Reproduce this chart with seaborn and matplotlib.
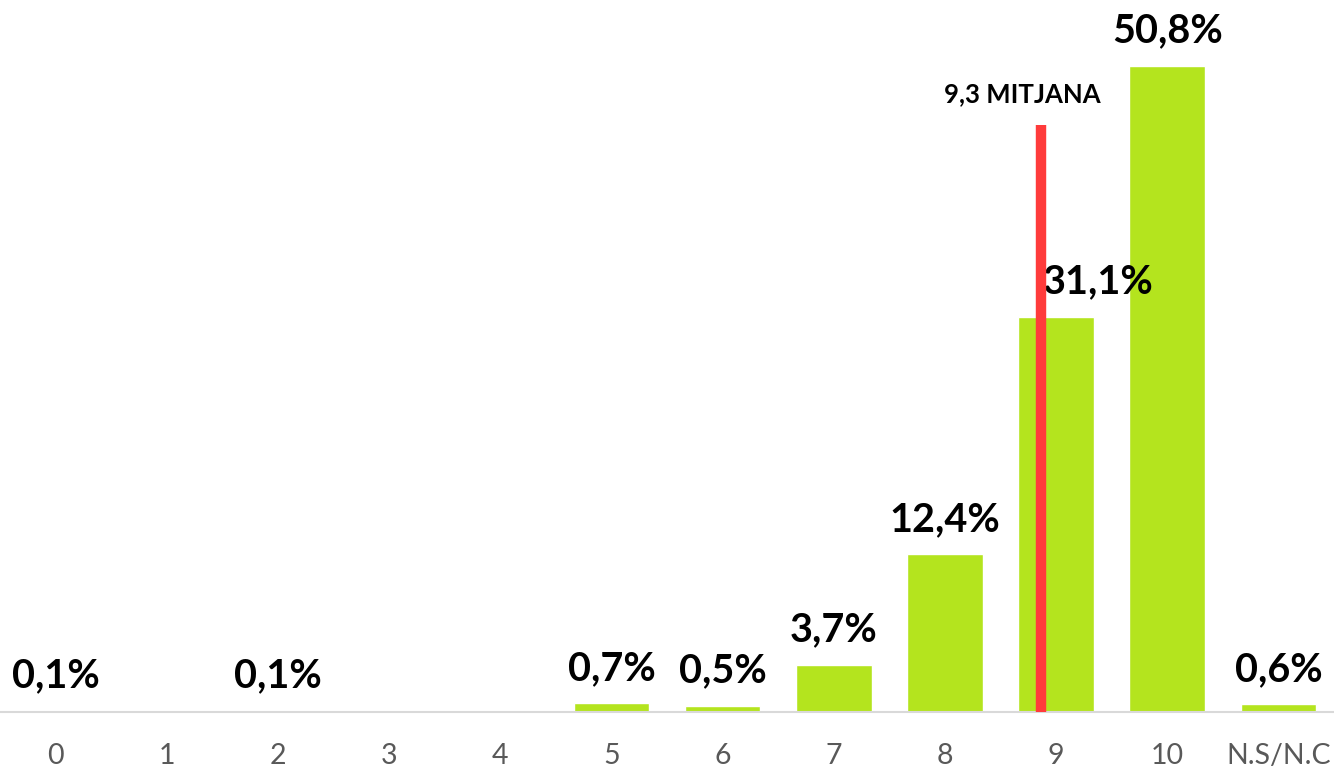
import matplotlib.pyplot as plt
import seaborn as sns
import pandas as pd

# dades
categories = ['0', '1', '2', '3', '4', '5', '6', '7', '8', '9', '10', 'N.S/N.C']
percent = [0.1, 0.0, 0.1, 0.0, 0.0, 0.7, 0.5, 3.7, 12.4, 31.1, 50.8, 0.6]
mean_label = '9,3 MITJANA'
mean_pos = 8.86
mean_top = 46.2

sns.set_theme(style='white')
plt.rcParams['font.family'] = ['Lato', 'DejaVu Sans']

df = pd.DataFrame({'cat': categories, 'pct': percent})

fig = plt.figure(figsize=(13.34, 7.69), dpi=100)
ax = fig.add_axes([0, 0.074, 1, 0.926])

sns.barplot(data=df, x='cat', y='pct', order=categories, color='#B4E41E',
            saturation=1, width=0.68, ax=ax)

ax.set_xlim(-0.5, 11.5)
ax.set_ylim(0, 56)

for i, v in enumerate(percent):
    if v <= 0:
        continue
    txt = f'{v:.1f}%'.replace('.', ',')
    dx = 0.38 if categories[i] == '9' else 0
    ax.text(i + dx, v + 2.75, txt, ha='center', va='center',
            fontsize=28.5, fontweight='bold', color='black')

ax.vlines(mean_pos, 0, mean_top, color='#FF3B3B', linewidth=7.5, zorder=5)
ax.text(mean_pos - 0.16, mean_top + 2.4, mean_label, ha='center', va='center',
        fontsize=18.5, fontweight='bold', color='black')

for s in ['top', 'right', 'left']:
    ax.spines[s].set_visible(False)
ax.spines['bottom'].set_color('#D9D9D9')
ax.spines['bottom'].set_linewidth(1.5)
ax.set_yticks([])
ax.set_xlabel('')
ax.set_ylabel('')
ax.tick_params(axis='x', length=0, labelsize=20.5, labelcolor='#595959', pad=22)

fig.savefig('out.png', dpi=100, facecolor='white')
